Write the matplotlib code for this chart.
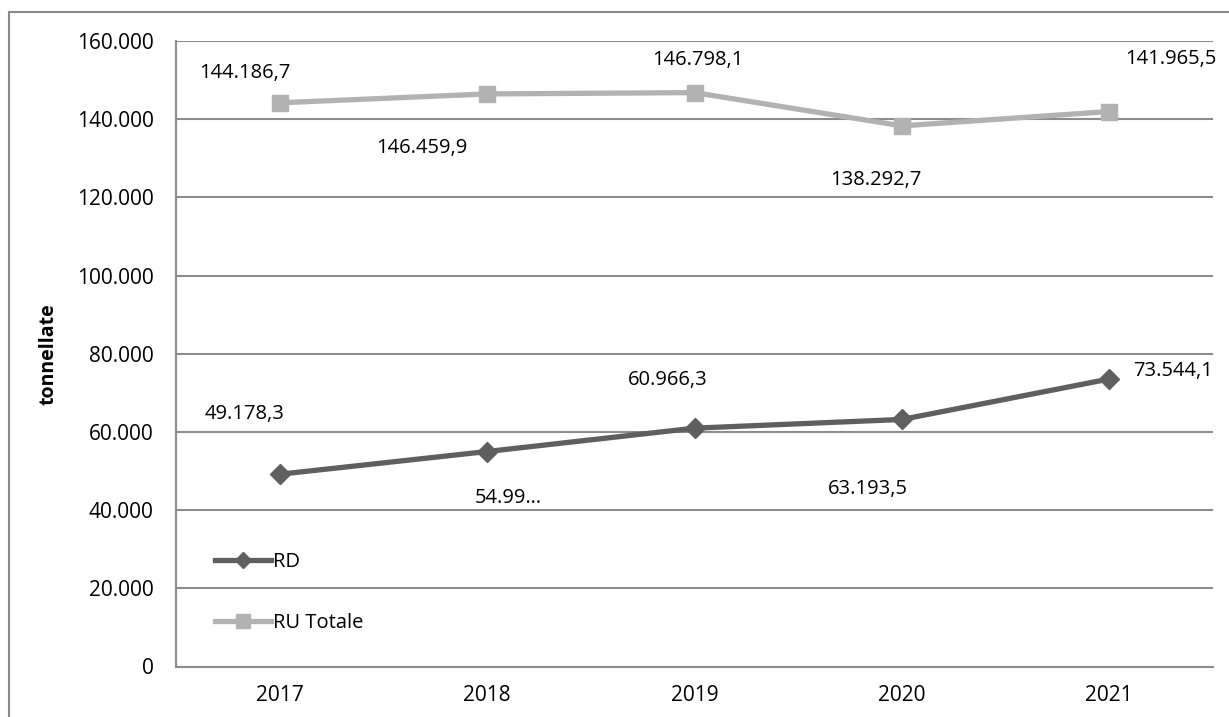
import matplotlib
matplotlib.use("Agg")
import matplotlib.pyplot as plt
from matplotlib.patches import Rectangle
from matplotlib.ticker import FuncFormatter

years = ["2017", "2018", "2019", "2020", "2021"]
rd = [49178.3, 54990.0, 60966.3, 63193.5, 73544.1]
ru_totale = [144186.7, 146459.9, 146798.1, 138292.7, 141965.5]
rd_labels = ["49.178,3", "54.99…", "60.966,3", "63.193,5", "73.544,1"]
ru_labels = ["144.186,7", "146.459,9", "146.798,1", "138.292,7", "141.965,5"]

plt.rcParams['font.family'] = ['Open Sans', 'DejaVu Sans']
plt.rcParams['font.size'] = 14

fig = plt.figure(figsize=(12.29, 7.17), dpi=100)
ax = fig.add_axes([176 / 1229, 1 - 666.5 / 717, (1213 - 176) / 1229, (666.5 - 41) / 717])

# outer frame of the chart object (cut off at right and bottom)
fig.patches.append(Rectangle((9 / 1229, -0.1), 2, (717 - 12) / 717 + 0.1,
                             transform=fig.transFigure, fill=False,
                             edgecolor='#8a8a8a', linewidth=1.5))

x = list(range(len(years)))
dark = '#5f5f5f'
light = '#b2b2b2'
ax.plot(x, rd, color=dark, linewidth=3.8, marker='D', markersize=10,
        label='RD', zorder=3)
ax.plot(x, ru_totale, color=light, linewidth=3.8, marker='s', markersize=12,
        label='RU Totale', zorder=3)

# data labels, offsets in pixels from each marker
rd_off = [(-35, 60), (21, -46), (-27, 48), (-34, -70), (64, 8)]
ru_off = [(-35, 30), (-65, -54), (3, 33), (-26, -54), (62, 53)]
for i in x:
    ax.annotate(rd_labels[i], (x[i], rd[i]), xytext=rd_off[i],
                textcoords='offset pixels', ha='center', va='center',
                fontsize=14.5, color='black')
    ax.annotate(ru_labels[i], (x[i], ru_totale[i]), xytext=ru_off[i],
                textcoords='offset pixels', ha='center', va='center',
                fontsize=14.5, color='black')

ax.set_xlim(-0.5, 4.5)
ax.set_ylim(0, 160000)
ax.set_yticks(range(0, 160001, 20000))
ax.yaxis.set_major_formatter(FuncFormatter(lambda v, p: f"{int(v):,}".replace(",", ".")))
ax.set_xticks(x)
ax.set_xticklabels(years)
ax.tick_params(axis='both', length=0, labelsize=15, colors='black')
ax.tick_params(axis='y', pad=16)
ax.tick_params(axis='x', pad=13)

ax.grid(axis='y', color='#8c8c8c', linewidth=1.5)
ax.set_axisbelow(True)
for side in ['top', 'right']:
    ax.spines[side].set_visible(False)
for side in ['left', 'bottom']:
    ax.spines[side].set_color('#8c8c8c')
    ax.spines[side].set_linewidth(1.5)

ax.set_ylabel('tonnellate', fontsize=14, fontweight='bold', labelpad=13)

ax.legend(loc='lower left', bbox_to_anchor=(0.02, 0.025), frameon=False,
          handlelength=2.8, handletextpad=0.1, labelspacing=2.0, fontsize=14.5,
          markerscale=0.85)

fig.savefig('out.png', dpi=100)
